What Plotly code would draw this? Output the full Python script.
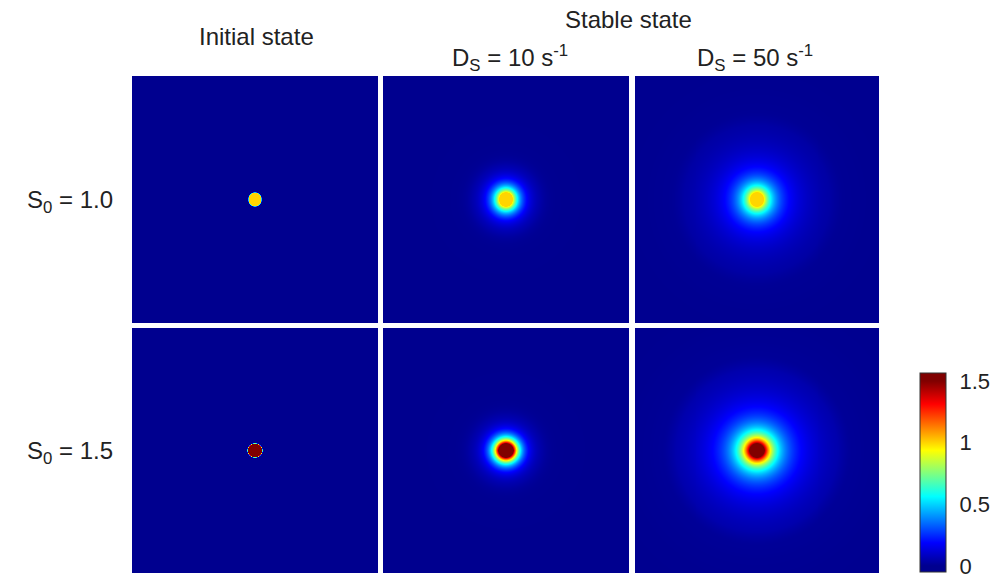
import numpy as np
import plotly.graph_objects as go

# ---------------- data ----------------
row_S0 = [1.0, 1.5]                      # initial concentration per row
row_labels = ["S<sub>0</sub> = 1.0", "S<sub>0</sub> = 1.5"]
col_titles = ["Initial state", "D<sub>S</sub> = 10 s<sup>-1</sup>", "D<sub>S</sub> = 50 s<sup>-1</sup>"]
group_title = "Stable state"
core_radius = [6.5, 7.5]                 # radius of the source disk (grid units)
near_decay = [[0.0, 8.0, 8.5], [0.0, 6.5, 8.5]]       # short decay length per panel
far_weight = [[0.0, 0.12, 0.40], [0.0, 0.12, 0.40]]   # weight of long tail per panel
far_decay = [[1.0, 14.0, 28.0], [1.0, 14.0, 30.0]]    # long decay length per panel
halo_radius = [[0.0, 40.0, 80.0], [0.0, 42.0, 88.0]]  # outer edge of the halo
cbar_tickvals = [0, 0.5, 1, 1.5]
cbar_ticktext = ["0", "0.5", "1", "1.5"]
grid = np.arange(-122.5, 123.0, 1.0)     # spatial coordinates of the cells

# ---------------- fields ----------------
X, Y = np.meshgrid(grid, grid)
R = np.sqrt(X ** 2 + Y ** 2)


def field(i, j):
    s0 = row_S0[i]
    r0 = core_radius[i]
    if j == 0:
        return s0 * np.clip(r0 + 0.5 - R, 0, 1)
    d = np.clip(R - r0, 0, None)
    w = far_weight[i][j]
    prof = (1 - w) * np.exp(-d / near_decay[i][j]) + w * np.exp(-d / far_decay[i][j])
    edge = np.clip((halo_radius[i][j] - R) / 12.0 + 0.5, 0, 1)
    return s0 * prof * (0.45 + 0.55 * edge)


# MATLAB-like jet, rescaled so that the colorbar extends slightly beyond [0, 1.5]
cmin, cmax = -0.05, 1.565
jet_vals = [0.0, 0.1875, 0.5625, 0.9375, 1.3125, 1.5]
jet_cols = ["rgb(0,0,143)", "rgb(0,0,255)", "rgb(0,255,255)",
            "rgb(255,255,0)", "rgb(255,0,0)", "rgb(128,0,0)"]
cscale = [[0.0, jet_cols[0]]]
for v, c in zip(jet_vals, jet_cols):
    cscale.append([(v - cmin) / (cmax - cmin), c])
cscale.append([1.0, jet_cols[-1]])

W, H = 999, 580
col_px = [(132, 378), (383, 629), (635, 879)]
row_px = [(76, 323), (328, 573)]

fig = go.Figure()
k = 0
for i in range(2):
    for j in range(3):
        k += 1
        z = np.round(field(i, j), 3)
        show = (i == 1 and j == 2)
        fig.add_trace(go.Heatmap(
            x=grid, y=grid, z=z, zmin=cmin, zmax=cmax, colorscale=cscale,
            showscale=show, xaxis=f"x{k}", yaxis=f"y{k}", hoverinfo="skip",
            colorbar=dict(
                thickness=26, thicknessmode="pixels",
                len=199, lenmode="pixels",
                x=920 / W, xanchor="left", xpad=0,
                y=(H - 572) / H, yanchor="bottom", ypad=0,
                outlinecolor="#333", outlinewidth=1,
                tickvals=cbar_tickvals, ticktext=cbar_ticktext,
                ticks="outside", ticklen=9, tickcolor="rgba(0,0,0,0)",
                tickfont=dict(family="Liberation Sans", size=22, color="#222"),
            ) if show else None,
        ))
        x0, x1 = col_px[j]
        y0, y1 = row_px[i]
        ax = dict(domain=[x0 / W, x1 / W], visible=False, range=[grid[0] - 0.5, grid[-1] + 0.5],
                  fixedrange=True)
        ay = dict(domain=[1 - y1 / H, 1 - y0 / H], visible=False, range=[grid[0] - 0.5, grid[-1] + 0.5],
                  fixedrange=True)
        sfx = "" if k == 1 else str(k)
        fig.layout[f"xaxis{sfx}"] = dict(ax, anchor=f"y{sfx}" if sfx else "y")
        fig.layout[f"yaxis{sfx}"] = dict(ay, anchor=f"x{sfx}" if sfx else "x")

font = dict(family="Liberation Sans", size=24, color="#222")
ann = []
ann.append(dict(text=col_titles[0], x=256 / W, y=1 - 37 / H))
ann.append(dict(text=group_title, x=628 / W, y=1 - 19 / H))
ann.append(dict(text=col_titles[1], x=510 / W, y=1 - 58 / H))
ann.append(dict(text=col_titles[2], x=755 / W, y=1 - 58 / H))
ann.append(dict(text=row_labels[0], x=70 / W, y=1 - 202 / H))
ann.append(dict(text=row_labels[1], x=70 / W, y=1 - 452 / H))
for a in ann:
    a.update(xref="paper", yref="paper", showarrow=False, xanchor="center", yanchor="middle", font=font)

fig.update_layout(
    width=W, height=H, margin=dict(l=0, r=0, t=0, b=0),
    paper_bgcolor="white", plot_bgcolor="white",
    annotations=ann, showlegend=False,
)
fig.write_html("out.html")
